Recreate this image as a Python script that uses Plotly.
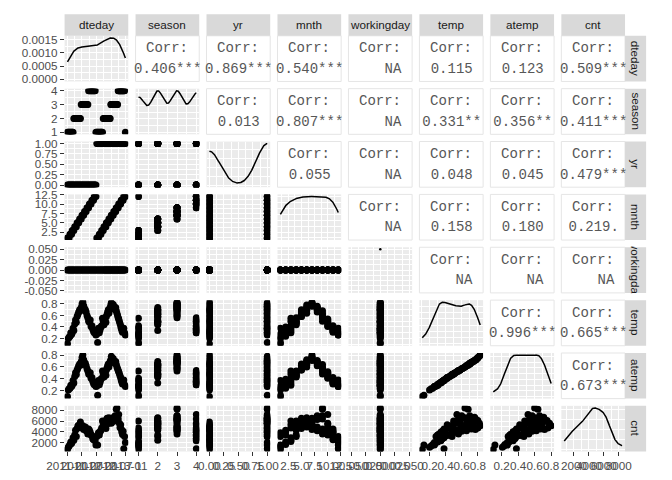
import numpy as np
import pandas as pd
import plotly.graph_objects as go

# ---------------- data ----------------
dteday = [
    "2011-01-05", "2011-01-15", "2011-01-25",
    "2011-02-05", "2011-02-15", "2011-02-25",
    "2011-03-05", "2011-03-15", "2011-03-25",
    "2011-04-05", "2011-04-15", "2011-04-25",
    "2011-05-05", "2011-05-15", "2011-05-25",
    "2011-06-05", "2011-06-15", "2011-06-25",
    "2011-07-05", "2011-07-15", "2011-07-25",
    "2011-08-05", "2011-08-15", "2011-08-25",
    "2011-09-05", "2011-09-15", "2011-09-25",
    "2011-10-05", "2011-10-15", "2011-10-25",
    "2011-11-05", "2011-11-15", "2011-11-25",
    "2011-12-05", "2011-12-15", "2011-12-25",
    "2012-01-05", "2012-01-15", "2012-01-25",
    "2012-02-05", "2012-02-15", "2012-02-25",
    "2012-03-05", "2012-03-15", "2012-03-25",
    "2012-04-03", "2012-04-11", "2012-04-19", "2012-04-27",
    "2012-05-03", "2012-05-11", "2012-05-19", "2012-05-27",
    "2012-06-03", "2012-06-11", "2012-06-19", "2012-06-27",
    "2012-07-03", "2012-07-11", "2012-07-19", "2012-07-27",
    "2012-08-03", "2012-08-11", "2012-08-19", "2012-08-27",
    "2012-09-03", "2012-09-11", "2012-09-19", "2012-09-27",
    "2012-10-03", "2012-10-11", "2012-10-19", "2012-10-27",
    "2012-11-03", "2012-11-11", "2012-11-19", "2012-11-27",
    "2012-12-05", "2012-12-15", "2012-12-25",
]
season = [
    1, 1, 1,  1, 1, 1,  1, 1, 2,  2, 2, 2,  2, 2, 2,  2, 2, 3,
    3, 3, 3,  3, 3, 3,  3, 3, 4,  4, 4, 4,  4, 4, 4,  4, 4, 1,
    1, 1, 1,  1, 1, 1,  1, 1, 2,
    2, 2, 2, 2,  2, 2, 2, 2,  2, 2, 2, 3,  3, 3, 3, 3,
    3, 3, 3, 3,  3, 3, 3, 4,  4, 4, 4, 4,  4, 4, 4, 4,
    4, 4, 1,
]
temp = [
    0.11, 0.20, 0.22,  0.24, 0.30, 0.27,  0.30, 0.38, 0.34,
    0.45, 0.52, 0.48,  0.58, 0.62, 0.66,  0.70, 0.68, 0.74,
    0.80, 0.83, 0.77,  0.72, 0.70, 0.66,  0.60, 0.56, 0.50,
    0.48, 0.52, 0.41,  0.42, 0.36, 0.32,  0.30, 0.34, 0.26,
    0.28, 0.13, 0.38,  0.30, 0.35, 0.40,  0.42, 0.55, 0.50,
    0.44, 0.50, 0.56, 0.48,  0.58, 0.62, 0.66, 0.70,
    0.64, 0.70, 0.74, 0.78,  0.82, 0.80, 0.76, 0.79,
    0.76, 0.72, 0.70, 0.74,  0.68, 0.64, 0.60, 0.56,
    0.54, 0.50, 0.46, 0.42,  0.38, 0.34, 0.31, 0.36,
    0.38, 0.30, 0.26,
]
atemp = [
    0.10, 0.21, 0.23,  0.24, 0.29, 0.27,  0.29, 0.37, 0.33,
    0.44, 0.50, 0.47,  0.55, 0.58, 0.62,  0.65, 0.63, 0.69,
    0.76, 0.80, 0.72,  0.67, 0.66, 0.62,  0.57, 0.53, 0.48,
    0.47, 0.50, 0.41,  0.42, 0.36, 0.32,  0.30, 0.34, 0.27,
    0.28, 0.12, 0.37,  0.30, 0.34, 0.39,  0.41, 0.53, 0.48,
    0.43, 0.48, 0.53, 0.46,  0.55, 0.58, 0.62, 0.65,
    0.60, 0.65, 0.69, 0.72,  0.78, 0.75, 0.71, 0.74,
    0.71, 0.68, 0.66, 0.69,  0.64, 0.60, 0.57, 0.54,
    0.52, 0.49, 0.45, 0.42,  0.38, 0.34, 0.31, 0.36,
    0.38, 0.30, 0.27,
]
cnt = [
    700, 1100, 1350,  1600, 2100, 1800,  2200, 2900, 2400,
    3400, 4300, 3100,  4600, 5100, 4800,  5400, 5800, 4900,
    4700, 5100, 4400,  4500, 4900, 4200,  4100, 3600, 4500,
    4300, 3900, 3400,  3300, 2700, 2500,  2800, 2300, 1500,
    3100, 1500, 3800,  3400, 4000, 4300,  4700, 6000, 5300,
    5000, 6000, 5600, 4600,  5800, 6500, 5500, 6200,
    6600, 6000, 5700, 6300,  5600, 6100, 6500, 5900,
    6700, 6300, 7000, 6400,  8200, 8450, 7000, 6400,
    7200, 5600, 4800, 5300,  4500, 3900, 3500, 4100,
    800, 3100, 2000,
]
workingday = [0] * len(dteday)

variables = ["dteday", "season", "yr", "mnth", "workingday", "temp", "atemp", "cnt"]

# correlation labels (upper triangle), row -> list for columns row+1..7
corr_labels = {
    0: ["0.406***", "0.869***", "0.540***", "NA", "0.115", "0.123", "0.509***"],
    1: ["0.013", "0.807***", "NA", "0.331**", "0.356**", "0.411***"],
    2: ["0.055", "NA", "0.048", "0.045", "0.479***"],
    3: ["NA", "0.158", "0.180", "0.219."],
    4: ["NA", "NA", "NA"],
    5: ["0.996***", "0.665***"],
    6: ["0.673***"],
}

date_breaks = ["2011-01-01", "2011-07-01", "2012-01-01", "2012-07-01", "2013-01-01"]
date_labels = ["2011-01", "2011-07", "2012-01", "2012-07", "2013-01"]
date_minor = ["2010-10-01", "2011-04-01", "2011-10-01", "2012-04-01", "2012-10-01"]

breaks = {
    "season": ([1, 2, 3, 4], ["1", "2", "3", "4"]),
    "yr": ([0, 0.25, 0.5, 0.75, 1.0], ["0.00", "0.25", "0.50", "0.75", "1.00"]),
    "mnth": ([2.5, 5, 7.5, 10, 12.5], ["2.5", "5.0", "7.5", "10.0", "12.5"]),
    "workingday": ([-0.05, -0.025, 0, 0.025, 0.05], ["-0.050", "-0.025", "0.000", "0.025", "0.050"]),
    "temp": ([0.2, 0.4, 0.6, 0.8], ["0.2", "0.4", "0.6", "0.8"]),
    "atemp": ([0.2, 0.4, 0.6, 0.8], ["0.2", "0.4", "0.6", "0.8"]),
    "cnt": ([2000, 4000, 6000, 8000], ["2000", "4000", "6000", "8000"]),
}

# ---------------- derived columns ----------------
dates = pd.to_datetime(pd.Series(dteday))
origin = pd.Timestamp("2011-01-01")
data = {
    "dteday": np.array((dates - origin).dt.days, float),
    "season": np.array(season, float),
    "yr": np.array(dates.dt.year - 2011, float),
    "mnth": np.array(dates.dt.month, float),
    "workingday": np.array(workingday, float),
    "temp": np.array(temp, float),
    "atemp": np.array(atemp, float),
    "cnt": np.array(cnt, float),
}
to_days = lambda lst: [float((pd.Timestamp(s) - origin).days) for s in lst]
breaks["dteday"] = (to_days(date_breaks), date_labels)


def minor_of(br):
    br = list(br)
    if len(br) < 2:
        return []
    st = br[1] - br[0]
    return [br[0] - st / 2] + [b + st / 2 for b in br]


minors = {v: minor_of(breaks[v][0]) for v in breaks}
minors["dteday"] = to_days(date_minor)


def rng_of(v):
    x = data[v]
    lo, hi = x.min(), x.max()
    if hi == lo:
        return [lo - 0.055, hi + 0.055]
    s = hi - lo
    return [lo - 0.05 * s, hi + 0.05 * s]


ranges = {v: rng_of(v) for v in variables}


def kde(x):
    x = np.asarray(x, float)
    n = len(x)
    sd = x.std(ddof=1)
    q75, q25 = np.percentile(x, [75, 25])
    lo = min(sd, (q75 - q25) / 1.34)
    if lo == 0:
        lo = sd if sd > 0 else 1.0
    bw = 0.9 * lo * n ** -0.2
    g = np.linspace(x.min(), x.max(), 512)
    d = np.exp(-0.5 * ((g[:, None] - x[None, :]) / bw) ** 2).sum(1) / (n * bw * np.sqrt(2 * np.pi))
    return g, d


def nice_breaks(lo, hi, target=4):
    span = hi - lo
    raw = span / target
    mag = 10 ** np.floor(np.log10(raw))
    step = mag
    for m in [1, 2, 2.5, 5, 10]:
        step = m * mag
        if step >= raw:
            break
    i0 = int(np.ceil(lo / step - 1e-9))
    i1 = int(np.floor(hi / step + 1e-9))
    br = [round(i * step, 12) + 0.0 for i in range(i0, i1 + 1)]
    return br, step


def decimals_for(step):
    for dec in range(0, 12):
        if abs(round(step * 10 ** dec) - step * 10 ** dec) < 1e-6:
            return dec
    return 6


# ---------------- geometry (pixels) ----------------
W, H = 672, 480
LEFT, PW, PX = 49.3, 67.4, 75.1
TOP, PH, PY = 29.5, 46.7, 54.1
STRIP_TOP = 7.3
STRIP_R = 664.7

def xdom(j):
    a = LEFT + j * PX
    return [a / W, (a + PW) / W]

def ydom(i):
    t = TOP + i * PY
    return [1 - (t + PH) / H, 1 - t / H]

fig = go.Figure()
layout = dict(
    width=W, height=H, margin=dict(l=0, r=0, t=0, b=0),
    paper_bgcolor="white", plot_bgcolor="#EBEBEB", showlegend=False,
)
shapes, annotations = [], []

TICKFONT = dict(family="Liberation Sans, Arial, sans-serif", size=11.7, color="#4D4D4D")
MONO = "Liberation Mono, Courier New, monospace"
CORR_COLOR = "#575757"
GRID_MAJ, GRID_MIN = 1.3, 0.65

k = 0
for i, vy in enumerate(variables):
    for j, vx in enumerate(variables):
        if j > i:
            # correlation box
            x0, x1 = xdom(j)
            y0, y1 = ydom(i)
            shapes.append(dict(type="rect", xref="paper", yref="paper", x0=x0, x1=x1, y0=y0, y1=y1,
                               line=dict(color="#E5E5E5", width=1), fillcolor="white", layer="below"))
            cx = (x0 + x1) / 2
            cy_px = TOP + i * PY + PH / 2
            lab = corr_labels[i][j - i - 1]
            if lab == "NA":
                lab = "\u00a0\u00a0\u00a0NA"
            annotations.append(dict(x=cx, y=1 - (cy_px - 10.5) / H, xref="paper", yref="paper",
                                    text="Corr:", showarrow=False, xanchor="center", yanchor="middle",
                                    font=dict(family=MONO, size=14, color=CORR_COLOR)))
            annotations.append(dict(x=cx, y=1 - (cy_px + 10.5) / H, xref="paper", yref="paper",
                                    text=lab, showarrow=False, xanchor="center", yanchor="middle",
                                    width=PW, height=18,
                                    font=dict(family=MONO, size=14, color=CORR_COLOR)))
            continue
        k += 1
        xname = "xaxis" if k == 1 else f"xaxis{k}"
        yname = "yaxis" if k == 1 else f"yaxis{k}"
        xref = "x" if k == 1 else f"x{k}"
        yref = "y" if k == 1 else f"y{k}"

        xbr, xlab = breaks[vx]
        xa = dict(domain=xdom(j), anchor=yref, range=ranges[vx], tickmode="array",
                  tickvals=xbr, ticktext=xlab, showgrid=True, gridcolor="white", gridwidth=GRID_MAJ,
                  zeroline=False, showline=False, tickangle=0,
                  minor=dict(tickvals=minors[vx], showgrid=True, gridcolor="white", gridwidth=GRID_MIN, ticks=""))
        if i == len(variables) - 1:
            xa.update(showticklabels=True, ticks="outside", ticklen=3.7, tickwidth=1.07,
                      tickcolor="#333333", tickfont=TICKFONT)
        else:
            xa.update(showticklabels=False, ticks="")

        if i == j:
            if vx == "workingday":
                yr_ = [-0.05, 1.05]
                ybr = [0, 0.25, 0.5, 0.75, 1.0]
                ylab = ["" for _ in ybr]
                ymin = minor_of(ybr)
                fig.add_trace(go.Scatter(x=[0.0], y=[1.0], mode="markers",
                                         marker=dict(size=2.5, color="black"),
                                         xaxis=xref, yaxis=yref, hoverinfo="skip"))
            else:
                g, d = kde(data[vx])
                mx = d.max()
                yr_ = [-0.05 * mx, 1.05 * mx]
                ybr, st = nice_breaks(yr_[0], yr_[1])
                dec = decimals_for(st)
                ylab = [f"{abs(b) if abs(b) < 1e-15 else b:.{dec}f}" for b in ybr]
                ymin = minor_of(ybr)
                fig.add_trace(go.Scatter(x=g, y=d, mode="lines", line=dict(color="black", width=1.5),
                                         xaxis=xref, yaxis=yref, hoverinfo="skip"))
        else:
            yr_ = ranges[vy]
            ybr, ylab = breaks[vy]
            ymin = minors[vy]
            fig.add_trace(go.Scatter(x=data[vx], y=data[vy], mode="markers",
                                     marker=dict(size=7, color="black", line=dict(width=0)),
                                     xaxis=xref, yaxis=yref, hoverinfo="skip"))

        ya = dict(domain=ydom(i), anchor=xref, range=yr_, tickmode="array",
                  tickvals=ybr, ticktext=ylab, showgrid=True, gridcolor="white", gridwidth=GRID_MAJ,
                  zeroline=False, showline=False,
                  minor=dict(tickvals=ymin, showgrid=True, gridcolor="white", gridwidth=GRID_MIN, ticks=""))
        if j == 0:
            ya.update(showticklabels=True, ticks="outside", ticklen=3.7, tickwidth=1.07,
                      tickcolor="#333333", tickfont=TICKFONT)
        else:
            ya.update(showticklabels=False, ticks="")
        layout[xname] = xa
        layout[yname] = ya

# strips
STRIPFONT = dict(family="Liberation Sans, Arial, sans-serif", size=11.7, color="#1A1A1A")
for j, v in enumerate(variables):
    x0, x1 = xdom(j)
    shapes.append(dict(type="rect", xref="paper", yref="paper", x0=x0, x1=x1,
                       y0=1 - TOP / H, y1=1 - STRIP_TOP / H, line=dict(width=0), fillcolor="#D9D9D9"))
    annotations.append(dict(x=(x0 + x1) / 2, y=1 - (STRIP_TOP + TOP) / 2 / H, xref="paper", yref="paper",
                            text=v, showarrow=False, xanchor="center", yanchor="middle", font=STRIPFONT))
for i, v in enumerate(variables):
    y0, y1 = ydom(i)
    xl = (LEFT + 7 * PX + PW) / W
    shapes.append(dict(type="rect", xref="paper", yref="paper", x0=xl, x1=STRIP_R / W,
                       y0=y0, y1=y1, line=dict(width=0), fillcolor="#D9D9D9"))
    annotations.append(dict(x=(xl + STRIP_R / W) / 2, y=(y0 + y1) / 2, xref="paper", yref="paper",
                            text=v, showarrow=False, xanchor="center", yanchor="middle", textangle=90,
                            width=PH, height=20, font=STRIPFONT))

layout["shapes"] = shapes
layout["annotations"] = annotations
fig.update_layout(**layout)
fig.write_html("out.html")
